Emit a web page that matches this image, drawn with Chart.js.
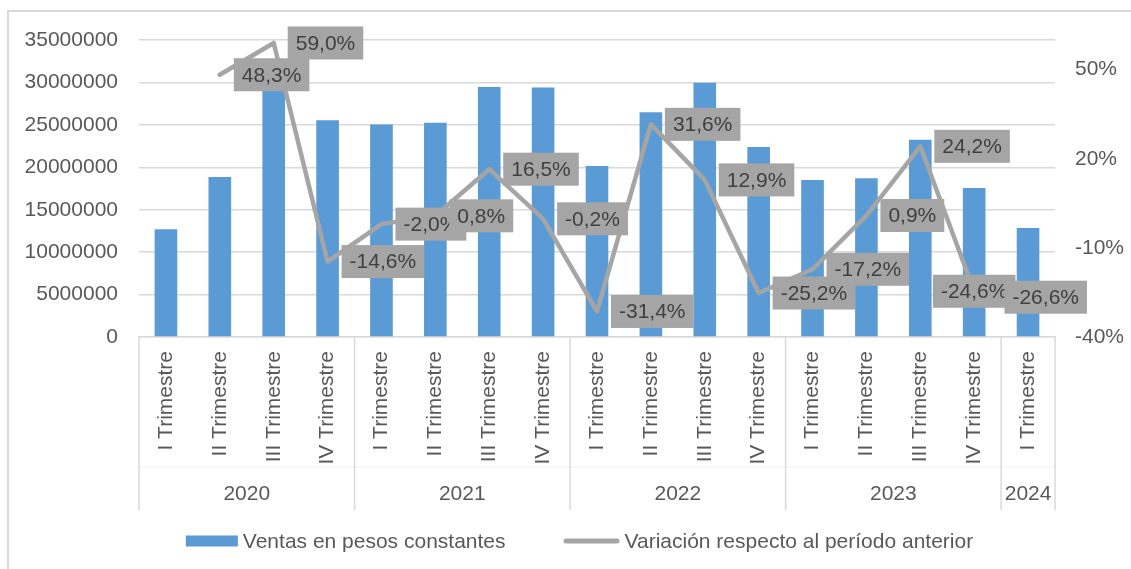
<!DOCTYPE html>
<html><head><meta charset="utf-8">
<script src="https://cdn.jsdelivr.net/npm/chart.js@4"></script>
<style>html,body{margin:0;padding:0;background:#fff}</style>
</head><body>
<canvas id="c" width="1131" height="569"></canvas>
<script>
const quarters = ['I Trimestre','II Trimestre','III Trimestre','IV Trimestre',
  'I Trimestre','II Trimestre','III Trimestre','IV Trimestre',
  'I Trimestre','II Trimestre','III Trimestre','IV Trimestre',
  'I Trimestre','II Trimestre','III Trimestre','IV Trimestre',
  'I Trimestre'];
const years = ['2020','2020','2020','2020','2021','2021','2021','2021',
  '2022','2022','2022','2022','2023','2023','2023','2023','2024'];
const ventas = [12700000, 18850000, 29900000, 25550000, 25050000, 25250000, 29450000, 29400000,
  20150000, 26500000, 29950000, 22400000, 18500000, 18700000, 23250000, 17550000, 12850000];
const variacion = [null, 48.3, 59.0, -14.6, -2.0, 0.8, 16.5, -0.2,
  -31.4, 31.6, 12.9, -25.2, -17.2, 0.9, 24.2, -24.6, -26.6];
const rightTicks = [-40, -10, 20, 50];
const seriesNames = ['Ventas en pesos constantes', 'Variación respecto al período anterior'];

const FONT = '"Liberation Sans", Arial, sans-serif';
const TXT = '#595959', GRID = '#d9d9d9', BLUE = '#5b9bd5', GRAY = '#a5a5a5';

Chart.defaults.font.family = FONT;
Chart.defaults.font.size = 21;
Chart.defaults.color = TXT;

const framePlugin = {
  id:'frame',
  beforeDraw(chart){
    const ctx=chart.ctx; ctx.save();
    ctx.fillStyle='#fff'; ctx.fillRect(0,0,chart.width,chart.height);
    ctx.strokeStyle=GRID; ctx.lineWidth=2;
    ctx.beginPath(); ctx.moveTo(8,chart.height); ctx.lineTo(8,11); ctx.lineTo(chart.width,11); ctx.stroke();
    ctx.restore();
  }
};

const yearPlugin = {
  id:'years',
  afterDraw(chart){
    const xs=chart.scales.x, ctx=chart.ctx, area=chart.chartArea;
    const half=(xs.getPixelForValue(1)-xs.getPixelForValue(0))/2;
    const groups=[]; let s=0;
    for(let i=1;i<=years.length;i++){
      if(i===years.length || years[i]!==years[i-1]){ groups.push({label:years[s],a:s,b:i-1}); s=i; }
    }
    ctx.save();
    ctx.strokeStyle='#f0f0f0'; ctx.lineWidth=1;
    ctx.beginPath(); ctx.moveTo(area.left, xs.bottom-43); ctx.lineTo(area.right, xs.bottom-43); ctx.stroke();
    ctx.strokeStyle=GRID; ctx.lineWidth=1.5;
    ctx.font='21px '+FONT; ctx.fillStyle=TXT; ctx.textAlign='center'; ctx.textBaseline='middle';
    groups.forEach((g,k)=>{
      const l=xs.getPixelForValue(g.a)-half, r=xs.getPixelForValue(g.b)+half;
      ctx.beginPath(); ctx.moveTo(l,area.bottom); ctx.lineTo(l,xs.bottom); ctx.stroke();
      if(k===groups.length-1){ ctx.beginPath(); ctx.moveTo(r,area.bottom); ctx.lineTo(r,xs.bottom); ctx.stroke(); }
      ctx.fillText(g.label,(l+r)/2,xs.bottom-16);
    });
    ctx.restore();
  }
};

const legendPlugin = {
  id:'customLegend',
  afterDraw(chart){
    const ctx=chart.ctx, xs=chart.scales.x;
    const ds=chart.data.datasets;
    ctx.save();
    ctx.font='21px '+FONT; ctx.textBaseline='middle'; ctx.textAlign='left'; ctx.fillStyle=TXT;
    const mW=[52,56], gap=5, sep=58;
    const tW=ds.map(d=>ctx.measureText(d.label).width);
    const total=mW[0]+gap+tW[0]+sep+mW[1]+gap+tW[1];
    let x=chart.width/2+14-total/2;
    const y=xs.bottom+31;
    ctx.fillStyle=ds[0].backgroundColor; ctx.fillRect(x,y-5.5,mW[0],11);
    x+=mW[0]+gap; ctx.fillStyle=TXT; ctx.fillText(ds[0].label,x,y+1); x+=tW[0]+sep;
    ctx.strokeStyle=ds[1].borderColor; ctx.lineWidth=5; ctx.lineCap='round';
    ctx.beginPath(); ctx.moveTo(x+2.5,y); ctx.lineTo(x+mW[1]-2.5,y); ctx.stroke();
    x+=mW[1]+gap; ctx.fillStyle=TXT; ctx.fillText(ds[1].label,x,y+1);
    ctx.restore();
  }
};

const labelPlugin = {
  id:'varLabels',
  afterDatasetsDraw(chart){
    const meta=chart.getDatasetMeta(1), ctx=chart.ctx, area=chart.chartArea;
    ctx.save();
    ctx.font='21px '+FONT; ctx.textBaseline='middle'; ctx.textAlign='left';
    const h=33; let prev=null;
    meta.data.forEach((pt,i)=>{
      const v=variacion[i]; if(v===null) return;
      const text=v.toFixed(1).replace('.',',')+'%';
      const w=ctx.measureText(text).width+16;
      let left=pt.x+14;
      if(left+w>area.right){
        left=pt.x-w/2;
        if(prev && Math.abs(prev.y-pt.y)<h && left<prev.r) left=prev.r-11;
      }
      ctx.fillStyle=GRAY; ctx.fillRect(left,pt.y-h/2,w,h);
      ctx.fillStyle='#404040'; ctx.fillText(text,left+8,pt.y+1);
      prev={r:left+w,y:pt.y};
    });
    ctx.restore();
  }
};

new Chart(document.getElementById('c'), {
  type:'bar',
  data:{
    labels:quarters,
    datasets:[
      {label:seriesNames[0], data:ventas, backgroundColor:BLUE, yAxisID:'y',
       categoryPercentage:1, barPercentage:0.42, order:1},
      {label:seriesNames[1], type:'line', data:variacion, yAxisID:'y1',
       borderColor:GRAY, backgroundColor:GRAY, borderWidth:4.5, pointRadius:0,
       borderCapStyle:'round', borderJoinStyle:'round', tension:0, order:0}
    ]
  },
  options:{
    responsive:false, animation:false,
    layout:{padding:{top:40, left:0, right:0, bottom:59}},
    plugins:{ tooltip:{enabled:false}, legend:{display:false} },
    scales:{
      x:{grid:{display:false}, border:{display:true,color:GRID,width:1.5},
         ticks:{minRotation:90,maxRotation:90,autoSkip:false,padding:6,font:{size:21}},
         afterFit(s){ s.height=173; }},
      y:{position:'left', min:0, max:35000000,
         ticks:{stepSize:5000000, padding:21, font:{size:21}, callback:v=>String(v)},
         grid:{color:GRID, lineWidth:1.5, drawTicks:false}, border:{display:false},
         afterFit(s){ s.width=139; }},
      y1:{position:'right', min:-40, max:60,
         ticks:{padding:20, font:{size:21}, callback:v=>v+'%'},
         afterBuildTicks(s){ s.ticks=rightTicks.map(v=>({value:v})); },
         grid:{display:false, drawTicks:false}, border:{display:false},
         afterFit(s){ s.width=76; }}
    }
  },
  plugins:[framePlugin, yearPlugin, legendPlugin, labelPlugin]
});
</script>
</body></html>
